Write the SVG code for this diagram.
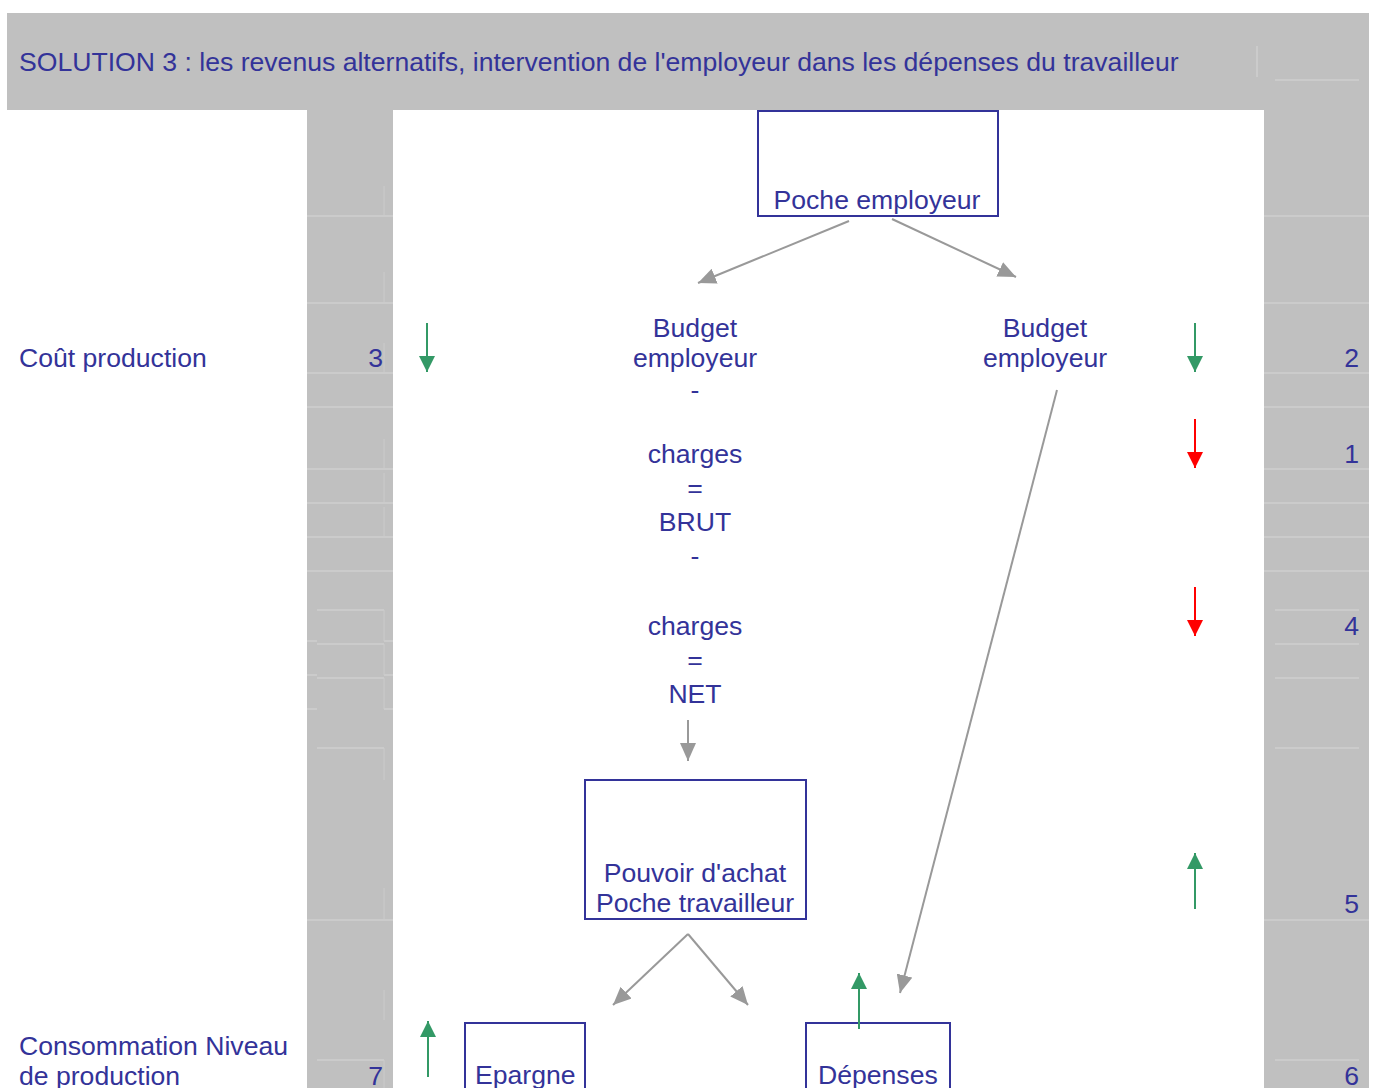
<svg xmlns="http://www.w3.org/2000/svg" width="1376" height="1088" viewBox="0 0 1376 1088">
<style>
text{font-family:"Liberation Sans",Arial,sans-serif;font-size:26.6px;fill:#333399}
.c{text-anchor:middle}
.r{text-anchor:end}
.box{fill:none;stroke:#333399;stroke-width:2}
.grey{fill:#c0c0c0}
.fl{stroke:#d6d6d6;stroke-width:1;fill:none}
.fv{stroke:#cbcbcb;stroke-width:1;fill:none}
.ga{stroke:#999999;stroke-width:2;fill:none;marker-end:url(#mg)}
.gr{stroke:#339966;stroke-width:2;fill:none;marker-end:url(#mgr)}
.rd{stroke:#ff0000;stroke-width:2;fill:none;marker-end:url(#mr)}
</style>
<defs>
<marker id="mg" markerUnits="userSpaceOnUse" markerWidth="20" markerHeight="16" refX="18" refY="8" orient="auto"><path d="M0,0 L18,8 L0,16 Z" fill="#999999"/></marker>
<marker id="mgr" markerUnits="userSpaceOnUse" markerWidth="18" markerHeight="16" refX="16" refY="8" orient="auto"><path d="M0,0 L16,8 L0,16 Z" fill="#339966"/></marker>
<marker id="mr" markerUnits="userSpaceOnUse" markerWidth="18" markerHeight="16" refX="16" refY="8" orient="auto"><path d="M0,0 L16,8 L0,16 Z" fill="#ff0000"/></marker>
</defs>
<rect width="1376" height="1088" fill="#ffffff"/>
<g id="background">
<rect class="grey" x="7" y="13" width="1362" height="97"/>
<rect class="grey" x="307" y="110" width="86" height="978"/>
<rect class="grey" x="1264" y="13" width="105" height="1075"/>
<path class="fl" d="M1257,46 V77 M1275,80 H1359 M307,216 H393 M1264,216 H1369 M307,303 H393 M1264,303 H1369 M307,373 H393 M1264,373 H1369 M307,407 H393 M1264,407 H1369 M307,469 H393 M1264,469 H1369 M307,503 H393 M1264,503 H1369 M307,537 H393 M1264,537 H1369 M307,571 H393 M1264,571 H1369 M317,610 H384 M1275,610 H1359 M307,641 H317 M384,641 H393 M317,644 H384 M1275,644 H1359 M307,675 H317 M384,675 H393 M317,678 H384 M1275,678 H1359 M307,709 H317 M384,709 H393 M317,748 H384 M1275,748 H1359 M307,920 H393 M1264,920 H1369 M317,1060 H384 M1275,1060 H1359"/>
<path class="fv" d="M384,186 V216 M384,272 V303 M384,343 V373 M384,439 V469 M384,473 V503 M384,507 V537 M384,610 V641 M384,644 V675 M384,678 V709 M384,748 V780 M384,888 V920 M384,990 V1020 M384,1060 V1088"/>
</g>
<g id="title"><text x="19" y="71">SOLUTION 3 : les revenus alternatifs, intervention de l'employeur dans les dépenses du travailleur</text></g>
<g id="label-cout"><text x="19" y="367">Coût production</text><text class="r" x="383" y="367">3</text></g>
<g id="label-conso"><text x="19" y="1055">Consommation Niveau</text><text x="19" y="1085">de production</text><text class="r" x="383" y="1085">7</text></g>
<g id="numbers-right">
<text class="r" x="1359" y="367">2</text>
<text class="r" x="1359" y="463">1</text>
<text class="r" x="1359" y="635">4</text>
<text class="r" x="1359" y="913">5</text>
<text class="r" x="1359" y="1085">6</text>
</g>
<g id="poche-employeur"><rect class="box" x="758" y="111" width="240" height="105"/><text class="c" x="877" y="209">Poche employeur</text></g>
<g id="budget-left">
<text class="c" x="695" y="337">Budget</text>
<text class="c" x="695" y="367">employeur</text>
<text class="c" x="695" y="399">-</text>
<text class="c" x="695" y="463">charges</text>
<text class="c" x="695" y="497">=</text>
<text class="c" x="695" y="531">BRUT</text>
<text class="c" x="695" y="565">-</text>
<text class="c" x="695" y="635">charges</text>
<text class="c" x="695" y="669">=</text>
<text class="c" x="695" y="703">NET</text>
</g>
<g id="budget-right"><text class="c" x="1045" y="337">Budget</text><text class="c" x="1045" y="367">employeur</text></g>
<g id="pouvoir-achat"><rect class="box" x="585" y="780" width="221" height="139"/><text class="c" x="695" y="882">Pouvoir d'achat</text><text class="c" x="695" y="912">Poche travailleur</text></g>
<g id="epargne"><rect class="box" x="465" y="1023" width="120" height="80"/><text x="475" y="1084">Epargne</text></g>
<g id="depenses"><rect class="box" x="806" y="1023" width="144" height="80"/><text x="818" y="1084">Dépenses</text></g>
<g id="connectors">
<line class="ga" x1="849" y1="221" x2="698" y2="283"/>
<line class="ga" x1="892" y1="219" x2="1016" y2="277"/>
<line class="ga" x1="1057" y1="390" x2="900" y2="993"/>
<line class="ga" x1="688" y1="720" x2="688" y2="761"/>
<line class="ga" x1="688" y1="934" x2="613" y2="1005"/>
<line class="ga" x1="688" y1="934" x2="748" y2="1005"/>
<line class="gr" x1="859" y1="1029" x2="859" y2="973"/>
<line class="gr" x1="427" y1="323" x2="427" y2="372"/>
<line class="gr" x1="1195" y1="323" x2="1195" y2="372"/>
<line class="rd" x1="1195" y1="419" x2="1195" y2="468"/>
<line class="rd" x1="1195" y1="587" x2="1195" y2="636"/>
<line class="gr" x1="1195" y1="909" x2="1195" y2="853"/>
<line class="gr" x1="428" y1="1077" x2="428" y2="1021"/>
</g>
</svg>
